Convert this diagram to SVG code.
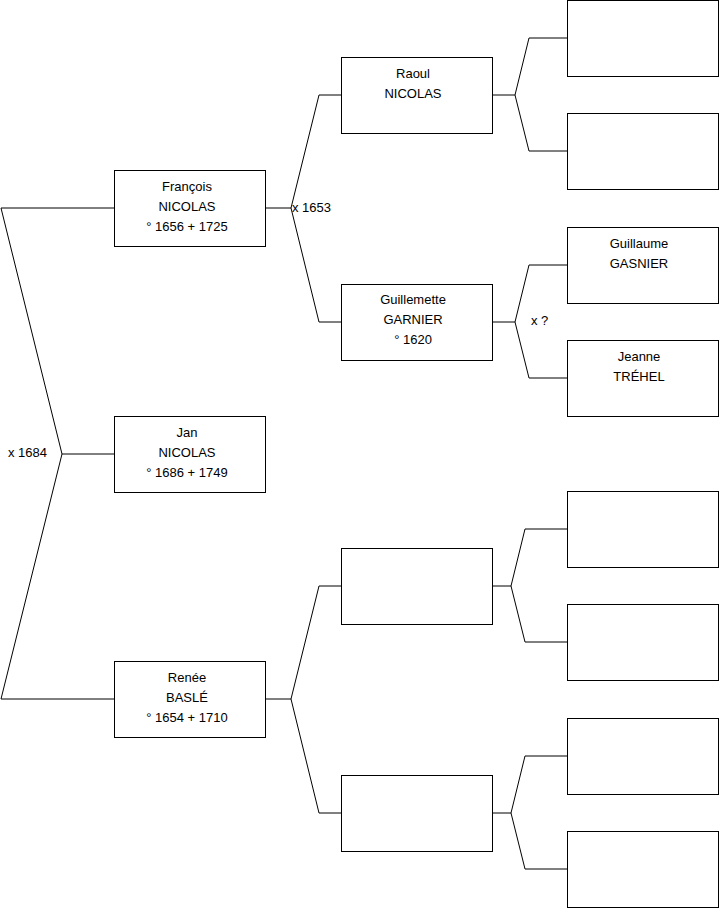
<svg xmlns="http://www.w3.org/2000/svg" width="719" height="908" viewBox="0 0 719 908">
<style>
.box{fill:#fff;stroke:#000;stroke-width:1}
.c{fill:none;stroke:#000;stroke-width:1}
text{font-family:"Liberation Sans",Arial,sans-serif;font-size:13px;fill:#000}
.m{text-anchor:middle}
</style>
<rect width="719" height="908" fill="#fff"/>
<g id="connectors">
<polyline class="c" points="114,208 1,208 62,454 1,699 114,699"/>
<line class="c" x1="62" y1="454" x2="114" y2="454"/>
<polyline class="c" points="341,95 319,95 291,208 319,322 341,322"/>
<line class="c" x1="265" y1="208" x2="291" y2="208"/>
<polyline class="c" points="341,586 319,586 291,699 319,813 341,813"/>
<line class="c" x1="265" y1="699" x2="291" y2="699"/>
<polyline class="c" points="567,38 529,38 515,95 529,151 567,151"/>
<line class="c" x1="492" y1="95" x2="515" y2="95"/>
<polyline class="c" points="567,265 529,265 515,322 529,378 567,378"/>
<line class="c" x1="492" y1="322" x2="515" y2="322"/>
<polyline class="c" points="567,529 525,529 511,586 525,642 567,642"/>
<line class="c" x1="492" y1="586" x2="511" y2="586"/>
<polyline class="c" points="567,756 525,756 511,813 525,869 567,869"/>
<line class="c" x1="492" y1="813" x2="511" y2="813"/>
<text x="292" y="212">x 1653</text>
<text x="531" y="325">x ?</text>
<text x="8" y="457">x 1684</text>
</g>
<g id="jan"><rect class="box" x="114.5" y="416.5" width="151" height="76"/>
<text class="m" x="187" y="437">Jan</text><text class="m" x="187" y="457">NICOLAS</text><text class="m" x="187" y="477">° 1686 + 1749</text></g>
<g id="francois"><rect class="box" x="114.5" y="170.5" width="151" height="76"/>
<text class="m" x="187" y="191">François</text><text class="m" x="187" y="211">NICOLAS</text><text class="m" x="187" y="231">° 1656 + 1725</text></g>
<g id="renee"><rect class="box" x="114.5" y="661.5" width="151" height="76"/>
<text class="m" x="187" y="682">Renée</text><text class="m" x="187" y="702">BASLÉ</text><text class="m" x="187" y="722">° 1654 + 1710</text></g>
<g id="raoul"><rect class="box" x="341.5" y="57.5" width="151" height="76"/>
<text class="m" x="413" y="78">Raoul</text><text class="m" x="413" y="98">NICOLAS</text></g>
<g id="guillemette"><rect class="box" x="341.5" y="284.5" width="151" height="76"/>
<text class="m" x="413" y="304">Guillemette</text><text class="m" x="413" y="324">GARNIER</text><text class="m" x="413" y="344">° 1620</text></g>
<g id="g3a"><rect class="box" x="341.5" y="548.5" width="151" height="76"/></g>
<g id="g3b"><rect class="box" x="341.5" y="775.5" width="151" height="76"/></g>
<g id="g4a"><rect class="box" x="567.5" y="0.5" width="151" height="76"/></g>
<g id="g4b"><rect class="box" x="567.5" y="113.5" width="151" height="76"/></g>
<g id="guillaume"><rect class="box" x="567.5" y="227.5" width="151" height="76"/>
<text class="m" x="639" y="248">Guillaume</text><text class="m" x="639" y="268">GASNIER</text></g>
<g id="jeanne"><rect class="box" x="567.5" y="340.5" width="151" height="76"/>
<text class="m" x="639" y="361">Jeanne</text><text class="m" x="639" y="381">TRÉHEL</text></g>
<g id="g4e"><rect class="box" x="567.5" y="491.5" width="151" height="76"/></g>
<g id="g4f"><rect class="box" x="567.5" y="604.5" width="151" height="76"/></g>
<g id="g4g"><rect class="box" x="567.5" y="718.5" width="151" height="76"/></g>
<g id="g4h"><rect class="box" x="567.5" y="831.5" width="151" height="76"/></g>
</svg>
